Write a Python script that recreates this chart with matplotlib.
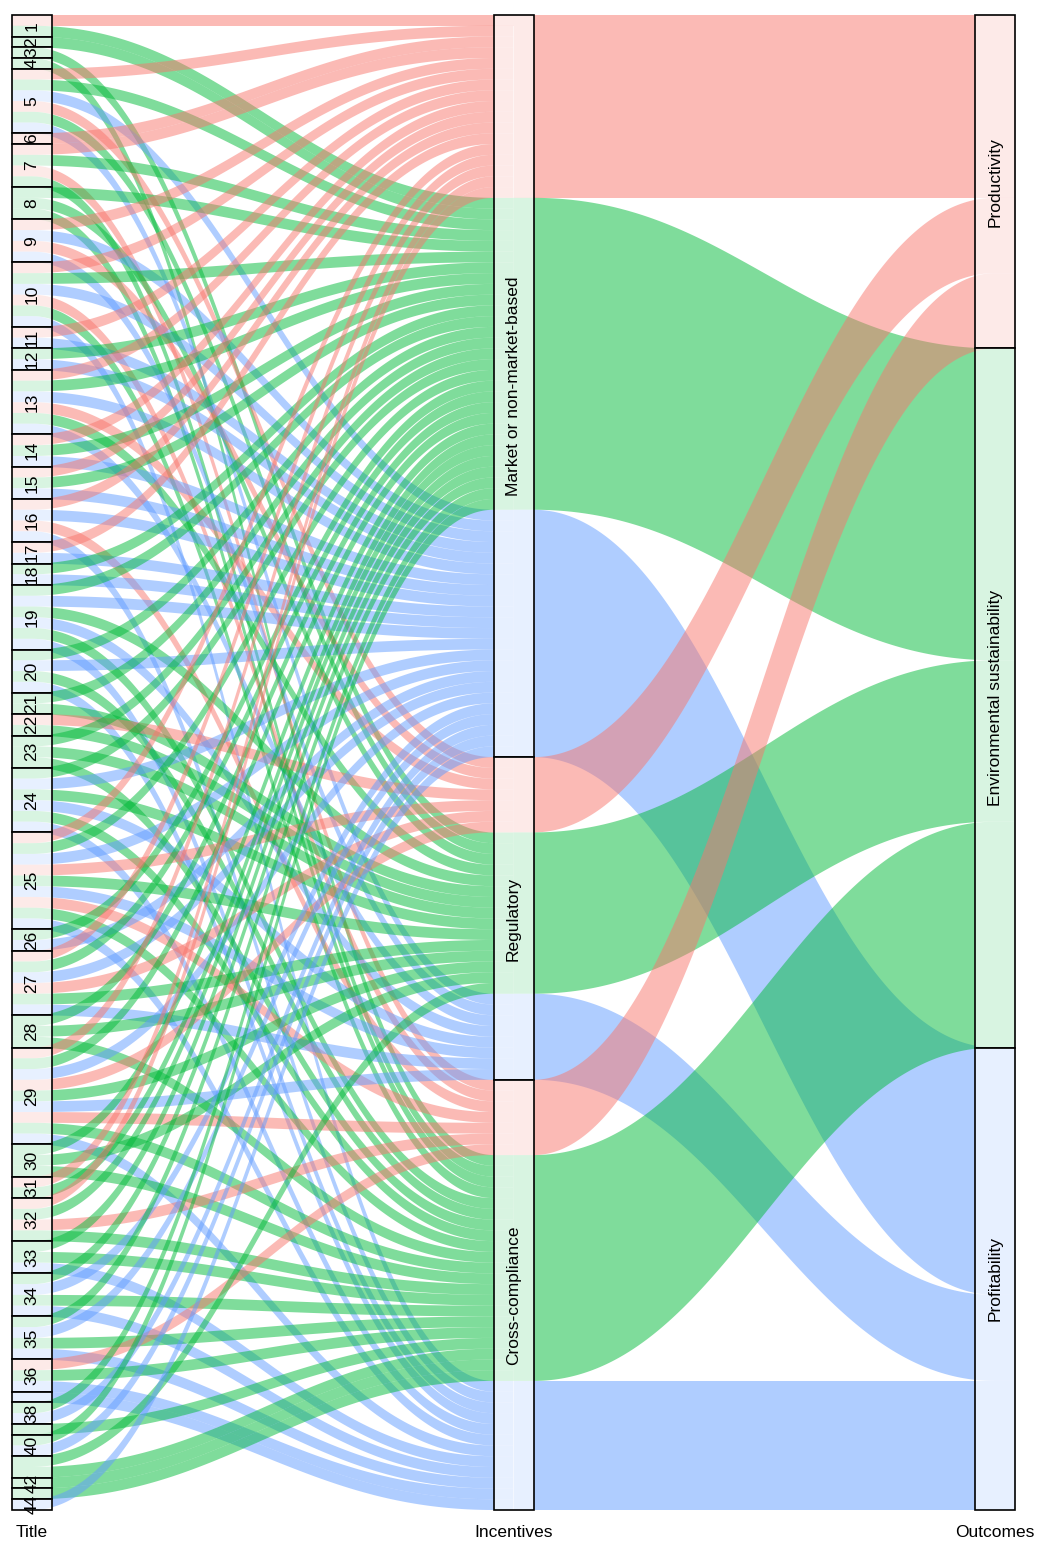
import numpy as np
import matplotlib
matplotlib.use('Agg')
import matplotlib.pyplot as plt
from matplotlib.patches import Rectangle

plt.rcParams['font.family'] = ['Liberation Sans', 'DejaVu Sans']

axis_names = ['Title', 'Incentives', 'Outcomes']
incentives = ['Market or non-market-based', 'Regulatory', 'Cross-compliance']
outcomes = ['Productivity', 'Environmental sustainability', 'Profitability']
outcome_colors = ['#F8766D', '#00BA38', '#619CFF']

titles = [str(i) for i in range(1, 45)]
hidden_labels = ['37', '39', '41', '43']

# one entry per title: groups of incentive (M/R/C) + outcomes (p/g/b), one row per letter
title_lodes = [
    "Mpg", "Mg", "Rg", "Cg", "Mpgb Rpgb",            # 1-5
    "Mp", "Mpg Cpg", "Mg Rg Cg", "Mpb Rpb", "Mpgb Cpgb",  # 6-10
    "Mpb", "Mgb", "Mpgb Rpgb", "Mpgb", "Mpgb",       # 11-15
    "Mpb Cpb", "Mpb", "Mgb", "Mgb Rgb Cgb", "Mgb Cgb",    # 16-20
    "Mg Rg", "Rpg", "Mg Rg Cg", "Mgb Rgb Cgb", "Mpgb Rpgb Cpgb",  # 21-25
    "Mgb", "Mpgb Rpgb", "Mg Rg Cg", "Mpgb Rpgb Cpgb", "Mg Rg Cg",  # 26-30
    "Mpg", "Mpg Cpg", "Mg Cgb", "Mgb Cgb", "Mgb Cgb",  # 31-35
    "Cpgb", "Cb", "Mgb", "Cg", "Mgb",               # 36-40
    "Rg Cg", "Cg", "Cg", "Mb",                      # 41-44
]
inc_code = {'M': 0, 'R': 1, 'C': 2}
out_code = {'p': 0, 'g': 1, 'b': 2}

rows = []
for ti, s in enumerate(title_lodes):
    for grp in s.split():
        for ch in grp[1:]:
            rows.append((ti, inc_code[grp[0]], out_code[ch]))
N = len(rows)


def stack(key):
    order = sorted(range(N), key=key)
    pos = np.zeros(N)
    for k, i in enumerate(order):
        pos[i] = k
    return pos


# lode order on each axis (zigzag like ggalluvial)
yT = stack(lambda i: (rows[i][0], rows[i][1], rows[i][2]))
yI = stack(lambda i: (rows[i][1], rows[i][2], rows[i][0]))
yO = stack(lambda i: (rows[i][2], rows[i][1], rows[i][0]))

w = 40 / 481.5  # stratum width


def curve(x0, y0, x1, y1, k=0.42, n=220):
    t = np.linspace(0, 1, n)
    d = x1 - x0
    cx0, cx1 = x0 + k * d, x1 - k * d
    x = (1-t)**3*x0 + 3*(1-t)**2*t*cx0 + 3*(1-t)*t**2*cx1 + t**3*x1
    y = (1-t)**3*y0 + 3*(1-t)**2*t*y0 + 3*(1-t)*t**2*y1 + t**3*y1
    return x, y


def ribbon(xa, xb, y0, y1, h):
    # flat in stratum a, curve, flat into stratum b (centre)
    cx, cy = curve(xa + w/2, y0, xb - w/2, y1)
    xt = np.concatenate([[xa], cx, [xb]])
    yt = np.concatenate([[y0], cy, [y1]])
    return np.concatenate([xt, xt[::-1]]), np.concatenate([yt, yt[::-1] + h])


fig = plt.figure(figsize=(10.43, 15.41), dpi=100)
ax = fig.add_axes([0, 24/1541, 1, 1517/1541])
u = 1495 / N
ax.set_xlim(1 - 32/481.5, 3 + 48/481.5)
ax.set_ylim(N + 7/u, -15/u)

# title -> incentive: one ribbon per row
for i in range(N):
    x, y = ribbon(1 - w/2, 2, yT[i], yI[i], 1)
    ax.fill(x, y, color=outcome_colors[rows[i][2]], alpha=0.5, lw=0)

# incentive -> outcome: rows of same pair are contiguous on both axes
for a in range(3):
    for o in range(3):
        idx = [i for i in range(N) if rows[i][1] == a and rows[i][2] == o]
        if not idx:
            continue
        x, y = ribbon(2, 3 + w/2, min(yI[idx]), min(yO[idx]), len(idx))
        ax.fill(x, y, color=outcome_colors[o], alpha=0.5, lw=0)


# strata
def strata(x, names, counts, hidden=()):
    y0 = 0
    for name, c in zip(names, counts):
        ax.add_patch(Rectangle((x - w/2, y0), w, c, facecolor=(1, 1, 1, 0.7),
                               edgecolor='black', lw=1.2))
        if name not in hidden:
            ax.text(x, y0 + c/2, name, rotation=90, ha='center', va='center',
                    fontsize=12.5)
        y0 += c


strata(1, titles, [sum(r[0] == k for r in rows) for k in range(len(titles))],
       hidden_labels)
strata(2, incentives, [sum(r[1] == k for r in rows) for k in range(3)])
strata(3, outcomes, [sum(r[2] == k for r in rows) for k in range(3)])

ax.set_xticks([1, 2, 3])
ax.set_xticklabels(axis_names, fontsize=12.5)
ax.tick_params(axis='x', length=0, pad=6)
ax.set_yticks([])
for s in ax.spines.values():
    s.set_visible(False)

fig.savefig('out.png', dpi=100)
